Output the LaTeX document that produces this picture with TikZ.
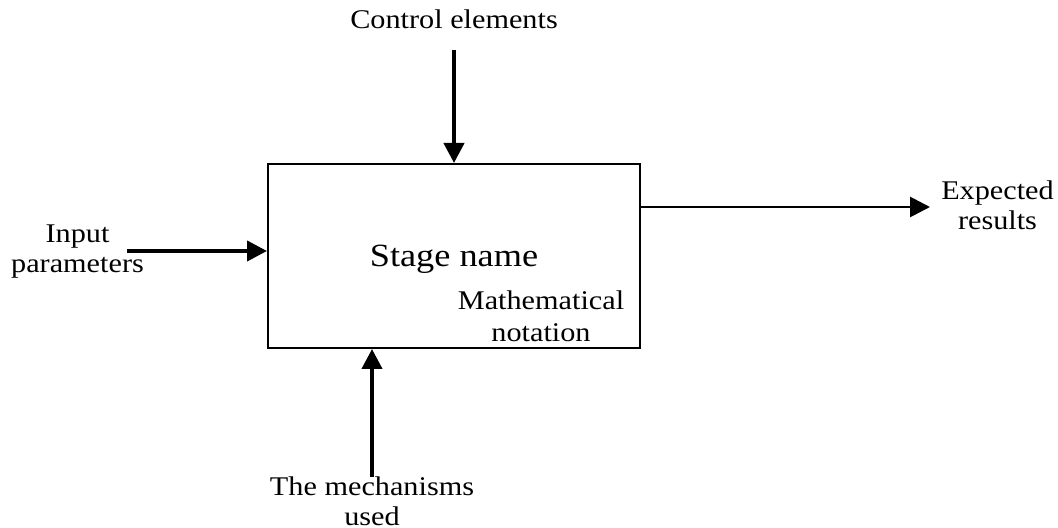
\documentclass[tikz,border=0pt]{standalone}
\usepackage{fontspec}
\setmainfont{Liberation Serif}[FakeStretch=1.12]
\usetikzlibrary{arrows.meta,calc}
\begin{document}
\begin{tikzpicture}[x=0.5pt,y=-0.5pt,
  lbl/.style={inner sep=0pt, anchor=base, align=center, font=\fontsize{13.5pt}{15pt}\selectfont},
  flow/.style={line width=2pt, -{Triangle[length=10pt,width=10pt]}},
  stagebox/.style={draw, line width=1pt, minimum width=186pt, minimum height=92pt, inner sep=0pt}]
\useasboundingbox (0,0) rectangle (1058,528);

% the stage block
\node[stagebox] (box) at (454,256) {};
\node[inner sep=0pt, anchor=base, font=\fontsize{16.2pt}{18pt}\selectfont] (stage) at (454,267) {Stage name};
\node[lbl, font=\fontsize{13.5pt}{16pt}\selectfont] (math) at (541,342) {Mathematical\\notation};

% labels round the block (base = last line)
\node[lbl] (ctrl) at (454,29) {Control elements};
\node[lbl] (inp) at (77.5,273) {Input\\parameters};
\node[lbl] (out) at (997.5,230) {Expected\\results};
\node[lbl] (mech) at (372,525) {The mechanisms\\used};

% arrow ends away from the block
\coordinate (ctrlstart) at (454,50);
\coordinate (inpstart) at (127,251);
\coordinate (outend) at (930,207);
\coordinate (mechstart) at (372,477);

% arrows
\draw[flow] (ctrlstart) -- (box.north);
\draw[flow] (inpstart) -- (inpstart -| box.west);
\draw[flow, line width=1.4pt] (outend -| box.east) -- (outend);
\draw[flow] (mechstart) -- (mechstart |- box.south);
\end{tikzpicture}
\end{document}
